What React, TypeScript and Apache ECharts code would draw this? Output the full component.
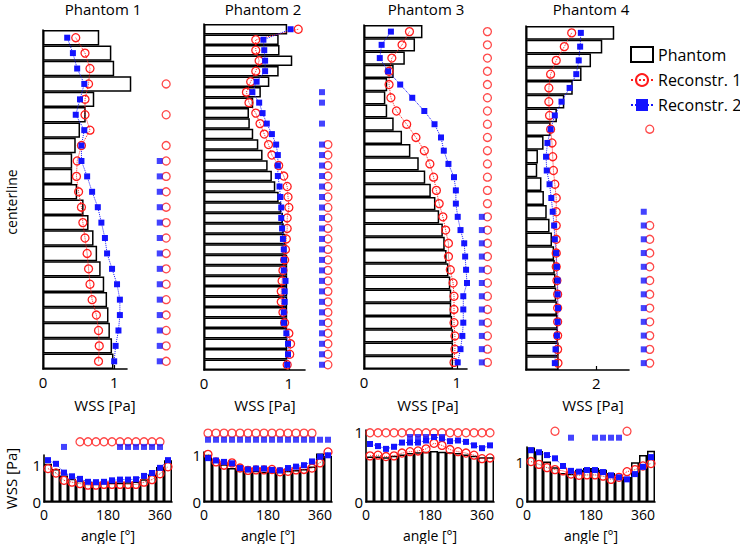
import React, { useEffect, useRef } from "react";
import * as echarts from "echarts";

// ---------- Top panels: WSS along centerline (row 0 = top) ----------
const p1Phantom = [0.79, 0.96, 1.0, 1.24, 0.72, 0.6, 0.52, 0.46, 0.41, 0.41, 0.48, 0.57, 0.64, 0.71, 0.76, 0.81, 0.86, 0.9, 0.92, 0.94, 0.97, 0.99];
const p1R1 = [0.46, 0.59, 0.66, 0.64, 0.59, 0.59, 0.66, 0.54, 0.48, 0.47, 0.5, 0.54, 0.56, 0.59, 0.62, 0.64, 0.66, 0.69, 0.75, 0.78, 0.79, 0.78];
const p1R2 = [0.34, 0.42, 0.48, 0.58, 0.52, 0.46, 0.58, 0.54, 0.54, 0.62, 0.69, 0.77, 0.82, 0.87, 0.9, 0.97, 1.04, 1.08, 1.08, 1.06, 1.02, 1.0];
const p1SigR1 = [3, 5, 7, 8, 9, 10, 11, 12, 13, 14, 15, 16, 17, 18, 19, 20, 21];
const p1SigR2 = [8, 9, 10, 11, 12, 13, 14, 15, 16, 17, 18, 19, 20, 21];

const p2Phantom = [0.98, 0.88, 0.89, 1.04, 0.88, 0.77, 0.67, 0.58, 0.53, 0.54, 0.58, 0.64, 0.69, 0.75, 0.8, 0.84, 0.88, 0.91, 0.93, 0.94, 0.96, 0.97, 0.98, 0.98, 0.98, 0.98, 0.98, 0.98, 0.98, 0.98, 0.98, 0.98, 0.98];
const p2R1 = [1.11, 0.61, 0.61, 0.65, 0.61, 0.55, 0.5, 0.53, 0.61, 0.66, 0.71, 0.76, 0.8, 0.88, 0.94, 0.98, 0.99, 1.0, 0.98, 0.98, 0.97, 0.96, 0.95, 0.93, 0.92, 0.91, 0.91, 0.93, 0.95, 1.0, 1.02, 1.01, 0.98];
const p2R2 = [1.02, 0.7, 0.71, 0.72, 0.72, 0.62, 0.57, 0.65, 0.69, 0.74, 0.8, 0.85, 0.87, 0.87, 0.87, 0.89, 0.9, 0.91, 0.91, 0.92, 0.93, 0.94, 0.94, 0.94, 0.96, 0.95, 0.95, 0.94, 0.94, 0.97, 0.99, 0.99, 0.98];
const p2SigR1 = [11, 12, 13, 14, 15, 16, 17, 18, 19, 20, 21, 22, 23, 24, 25, 26, 27, 28, 29, 30, 31, 32];
const p2SigR2 = [6, 7, 9, 11, 12, 13, 14, 15, 16, 17, 18, 19, 20, 21, 22, 23, 24, 25, 26, 27, 28, 29, 30, 31, 32];

const p3Phantom = [0.63, 0.55, 0.44, 0.32, 0.25, 0.23, 0.25, 0.32, 0.41, 0.5, 0.59, 0.66, 0.72, 0.77, 0.81, 0.85, 0.87, 0.89, 0.91, 0.93, 0.94, 0.94, 0.95, 0.96, 0.96, 0.96];
const p3R1 = [0.49, 0.41, 0.3, 0.27, 0.27, 0.29, 0.35, 0.46, 0.56, 0.65, 0.71, 0.75, 0.78, 0.81, 0.85, 0.88, 0.91, 0.91, 0.93, 0.96, 0.97, 0.97, 0.97, 0.98, 0.98, 0.97];
const p3R2 = [0.29, 0.19, 0.17, 0.26, 0.39, 0.52, 0.65, 0.76, 0.83, 0.86, 0.91, 0.97, 0.99, 0.99, 1.01, 1.04, 1.08, 1.09, 1.1, 1.11, 1.07, 1.07, 1.07, 1.06, 1.04, 1.01];
const p3SigR1 = [0, 1, 2, 3, 4, 5, 6, 7, 8, 9, 10, 11, 12, 13, 14, 15, 16, 17, 18, 19, 20, 21, 22, 23, 24, 25];
const p3SigR2 = [14, 15, 16, 17, 18, 19, 20, 21, 22, 23, 24, 25];

const p4Phantom = [2.51, 2.17, 1.85, 1.58, 1.33, 1.09, 0.88, 0.7, 0.5, 0.34, 0.32, 0.44, 0.51, 0.59, 0.67, 0.74, 0.8, 0.82, 0.84, 0.86, 0.88, 0.9, 0.91, 0.93, 0.93];
const p4R1 = [1.3, 1.09, 0.86, 0.7, 0.65, 0.65, 0.67, 0.7, 0.74, 0.76, 0.78, 0.82, 0.86, 0.86, 0.86, 0.86, 0.86, 0.86, 0.88, 0.9, 0.9, 0.9, 0.9, 0.9, 0.91];
const p4R2 = [1.56, 1.54, 1.5, 1.43, 1.24, 1.01, 0.82, 0.7, 0.61, 0.57, 0.59, 0.67, 0.72, 0.76, 0.8, 0.82, 0.86, 0.88, 0.9, 0.9, 0.91, 0.9, 0.88, 0.84, 0.82];
const p4SigR1 = [7, 14, 15, 16, 17, 18, 19, 20, 21, 22, 23, 24];
const p4SigR2 = [13, 14, 15, 16, 17, 18, 19, 20, 21, 22, 23, 24];

// ---------- Bottom panels: WSS over angle ----------
const angles = [11.25, 33.75, 56.25, 78.75, 101.25, 123.75, 146.25, 168.75, 191.25, 213.75, 236.25, 258.75, 281.25, 303.75, 326.25, 348.75];

const b1Phantom = [1.04, 0.9, 0.72, 0.63, 0.58, 0.55, 0.53, 0.53, 0.53, 0.53, 0.54, 0.56, 0.62, 0.75, 0.95, 1.14];
const b1R1 = [0.91, 0.79, 0.59, 0.54, 0.5, 0.46, 0.46, 0.48, 0.48, 0.48, 0.48, 0.48, 0.54, 0.61, 0.77, 0.96];
const b1R2 = [1.14, 1.04, 0.8, 0.7, 0.63, 0.55, 0.54, 0.55, 0.59, 0.61, 0.61, 0.62, 0.71, 0.79, 0.93, 1.14];
const b1SigR1 = [4, 5, 6, 7, 8, 9, 10, 11, 12, 13, 14];
const b1SigR2 = [2, 9, 10, 11, 12, 13, 14];

const b2Phantom = [1.0, 0.86, 0.8, 0.72, 0.68, 0.66, 0.66, 0.64, 0.64, 0.64, 0.66, 0.68, 0.7, 0.75, 1.03, 0.98];
const b2R1 = [1.01, 0.85, 0.78, 0.83, 0.72, 0.67, 0.68, 0.68, 0.69, 0.64, 0.65, 0.68, 0.69, 0.72, 0.83, 1.06];
const b2R2 = [0.93, 0.88, 0.85, 0.82, 0.72, 0.69, 0.71, 0.71, 0.68, 0.67, 0.72, 0.75, 0.78, 0.86, 0.96, 0.99];
const b2SigR1 = [0, 1, 2, 3, 4, 5, 6, 7, 8, 9, 10, 11, 12, 13];
const b2SigR2 = [0, 1, 2, 3, 4, 5, 6, 7, 8, 9, 10, 11, 12, 13, 14, 15];

const b3Phantom = [0.65, 0.65, 0.64, 0.66, 0.68, 0.7, 0.71, 0.72, 0.73, 0.72, 0.71, 0.7, 0.68, 0.66, 0.64, 0.64];
const b3R1 = [0.66, 0.67, 0.65, 0.66, 0.7, 0.72, 0.73, 0.76, 0.84, 0.81, 0.75, 0.72, 0.7, 0.67, 0.62, 0.63];
const b3R2 = [0.83, 0.8, 0.76, 0.79, 0.85, 0.85, 0.85, 0.88, 0.93, 0.91, 0.87, 0.88, 0.86, 0.81, 0.77, 0.81];
const b3SigR1 = [0, 1, 2, 3, 4, 5, 6, 7, 8, 9, 10, 11, 12, 13, 14, 15];
const b3SigR2 = [5, 6, 7, 8, 9];

const b4Phantom = [1.35, 1.26, 1.0, 0.86, 0.72, 0.7, 0.8, 0.84, 0.84, 0.8, 0.72, 0.62, 0.62, 0.98, 1.16, 1.27];
const b4R1 = [1.0, 0.93, 0.85, 0.8, 0.77, 0.69, 0.66, 0.67, 0.67, 0.64, 0.56, 0.61, 0.75, 0.8, 0.89, 0.95];
const b4R2 = [1.28, 1.23, 1.16, 1.08, 0.89, 0.77, 0.75, 0.79, 0.79, 0.74, 0.66, 0.61, 0.56, 0.69, 0.87, 1.11];
const b4SigR1 = [3, 12];
const b4SigR2 = [5, 8, 9, 10, 11];

const panelTitles = ["Phantom 1", "Phantom 2", "Phantom 3", "Phantom 4"];
const xTicksTop = [1, 1, 1, 2];
const xTicksBottom = 180;

const FONT = "'Open Sans', 'Noto Sans', sans-serif";
const RED = "#ff1c1c";
const BLUE = "#1414ff";

export default function App() {
  const ref = useRef<HTMLDivElement>(null);
  useEffect(() => {
    document.body.style.margin = "0";
    const chart = echarts.init(ref.current!, undefined, { renderer: "svg" });

    const topCfg = [
      { ph: p1Phantom, r1: p1R1, r2: p1R2, s1: p1SigR1, s2: p1SigR2, grid: { left: 43, top: 30, width: 84, height: 339 }, max: 1.18, sx1: 1.73, sx2: 1.64, cx: 103 },
      { ph: p2Phantom, r1: p2R1, r2: p2R2, s1: p2SigR1, s2: p2SigR2, grid: { left: 204, top: 24, width: 101, height: 346 }, max: 1.19, sx1: 1.46, sx2: 1.39, cx: 263 },
      { ph: p3Phantom, r1: p3R1, r2: p3R2, s1: p3SigR1, s2: p3SigR2, grid: { left: 364, top: 25, width: 103, height: 344 }, max: 1.11, sx1: 1.33, sx2: 1.27, cx: 426 },
      { ph: p4Phantom, r1: p4R1, r2: p4R2, s1: p4SigR1, s2: p4SigR2, grid: { left: 526, top: 26, width: 103, height: 344 }, max: 2.93, sx1: 3.52, sx2: 3.35, cx: 591 },
    ];
    const botCfg = [
      { ph: b1Phantom, r1: b1R1, r2: b1R2, s1: b1SigR1, s2: b1SigR2, grid: { left: 44, top: 455, width: 128, height: 48 }, max: 1.28, sy1: 1.64, sy2: 1.5 },
      { ph: b2Phantom, r1: b2R1, r2: b2R2, s1: b2SigR1, s2: b2SigR2, grid: { left: 204, top: 452, width: 128, height: 51 }, max: 1.06, sy1: 1.46, sy2: 1.32 },
      { ph: b3Phantom, r1: b3R1, r2: b3R2, s1: b3SigR1, s2: b3SigR2, grid: { left: 366, top: 430, width: 128, height: 73 }, max: 1.03, sy1: 0.99, sy2: 0.93 },
      { ph: b4Phantom, r1: b4R1, r2: b4R2, s1: b4SigR1, s2: b4SigR2, grid: { left: 527, top: 447, width: 128, height: 55 }, max: 1.36, sy1: 1.75, sy2: 1.59 },
    ];

    const axisLine = { show: true, lineStyle: { color: "#000", width: 1.6 } };
    const labelStyle = { color: "#000", fontSize: 15, fontFamily: FONT };

    const grids: any[] = [];
    const xAxes: any[] = [];
    const yAxes: any[] = [];
    const series: any[] = [];

    const circleStyle = { color: "rgba(255,255,255,0)", borderColor: RED, borderWidth: 1.3 };
    const squareStyle = { color: BLUE };

    topCfg.forEach((c, i) => {
      grids.push({ ...c.grid, containLabel: false });
      xAxes.push({
        type: "value", gridIndex: i, min: 0, max: c.max, interval: xTicksTop[i],
        axisLine, splitLine: { show: false },
        axisTick: { show: true, inside: true, length: 4, lineStyle: { color: "#000", width: 1.2 } },
        axisLabel: { ...labelStyle, margin: 5, showMaxLabel: false, formatter: (v: number) => (i === 3 && v === 0 ? "" : String(v)) },
      });
      yAxes.push({
        type: "category", gridIndex: i, inverse: true, data: c.ph.map((_, k) => String(k)),
        axisLine, axisTick: { show: false }, axisLabel: { show: false }, splitLine: { show: false },
      });
      series.push({
        type: "bar", name: "Phantom", xAxisIndex: i, yAxisIndex: i, data: c.ph, barCategoryGap: "0%", clip: false, z: 1,
        itemStyle: { color: "#fff", borderColor: "#000", borderWidth: 1.5 },
      });
      series.push({
        type: "line", name: "Reconstr. 1", xAxisIndex: i, yAxisIndex: i, clip: false, z: 3, showAllSymbol: true,
        data: c.r1.map((v, k) => [v, k]), symbol: "circle", symbolSize: 8,
        itemStyle: circleStyle, lineStyle: { color: RED, width: 1, type: "dotted" },
      });
      series.push({
        type: "line", name: "Reconstr. 2", xAxisIndex: i, yAxisIndex: i, clip: false, z: 3, showAllSymbol: true,
        data: c.r2.map((v, k) => [v, k]), symbol: "rect", symbolSize: 6,
        itemStyle: squareStyle, lineStyle: { color: BLUE, width: 1, type: "dotted" },
      });
      series.push({
        type: "scatter", name: "sig1", xAxisIndex: i, yAxisIndex: i, clip: false, z: 3,
        data: c.s1.map((r) => [c.sx1, r]), symbol: "circle", symbolSize: 8, itemStyle: circleStyle,
      });
      series.push({
        type: "scatter", name: "sig2", xAxisIndex: i, yAxisIndex: i, clip: false, z: 3,
        data: c.s2.map((r) => [c.sx2, r]), symbol: "rect", symbolSize: 6, itemStyle: squareStyle,
      });
    });

    botCfg.forEach((c, j) => {
      const i = j + 4;
      grids.push({ ...c.grid, containLabel: false });
      xAxes.push({
        type: "value", gridIndex: i, min: 0, max: 360, interval: xTicksBottom,
        axisLine, splitLine: { show: false },
        axisTick: { show: false },
        axisLabel: { ...labelStyle, fontSize: 14, lineHeight: 16, margin: 4, alignMaxLabel: "right" },
        name: "angle [°]", nameLocation: "middle", nameGap: 25,
        nameTextStyle: { color: "#000", fontSize: 14, lineHeight: 16, fontFamily: FONT },
      });
      yAxes.push({
        type: "value", gridIndex: i, min: 0, max: c.max, interval: 1,
        axisLine, splitLine: { show: false }, axisTick: { show: false },
        axisLabel: { ...labelStyle, margin: 3, showMaxLabel: false },
        ...(j === 0
          ? { name: "WSS [Pa]", nameLocation: "middle", nameRotate: 90, nameGap: 26, nameTextStyle: { color: "#000", fontSize: 15, fontFamily: FONT } }
          : {}),
      });
      series.push({
        type: "bar", name: "Phantom", xAxisIndex: i, yAxisIndex: i, barWidth: 8, clip: false, z: 1,
        data: angles.map((a, k) => [a, c.ph[k]]),
        itemStyle: { color: "#fff", borderColor: "#000", borderWidth: 1.5 },
      });
      series.push({
        type: "line", name: "Reconstr. 1", xAxisIndex: i, yAxisIndex: i, clip: false, z: 3, showAllSymbol: true,
        data: angles.map((a, k) => [a, c.r1[k]]), symbol: "circle", symbolSize: 8,
        itemStyle: circleStyle, lineStyle: { color: RED, width: 1, type: "dotted" },
      });
      series.push({
        type: "line", name: "Reconstr. 2", xAxisIndex: i, yAxisIndex: i, clip: false, z: 3, showAllSymbol: true,
        data: angles.map((a, k) => [a, c.r2[k]]), symbol: "rect", symbolSize: 6,
        itemStyle: squareStyle, lineStyle: { color: BLUE, width: 1, type: "dotted" },
      });
      series.push({
        type: "scatter", name: "sig1", xAxisIndex: i, yAxisIndex: i, clip: false, z: 3,
        data: c.s1.map((k) => [angles[k], c.sy1]), symbol: "circle", symbolSize: 8, itemStyle: circleStyle,
      });
      series.push({
        type: "scatter", name: "sig2", xAxisIndex: i, yAxisIndex: i, clip: false, z: 3,
        data: c.s2.map((k) => [angles[k], c.sy2]), symbol: "rect", symbolSize: 6, itemStyle: squareStyle,
      });
    });

    const textEl = (text: string, x: number, y: number, size: number, rotation = 0) => ({
      type: "text", x, y, rotation, silent: true,
      style: {
        text, fill: "#000", font: `${size}px ${FONT}`,
        align: "center", verticalAlign: "middle", textAlign: "center", textVerticalAlign: "middle",
      },
    });

    const graphics: any[] = [];
    topCfg.forEach((c, i) => {
      graphics.push(textEl(panelTitles[i], c.cx, 9, 15));
      graphics.push(textEl("WSS [Pa]", c.cx + 2, 405, 15));
    });
    graphics.push(textEl("centerline", 11, 202, 14, Math.PI / 2));

    const option: any = {
      animation: false,
      backgroundColor: "#fff",
      grid: grids,
      xAxis: xAxes,
      yAxis: yAxes,
      series,
      legend: {
        data: [{ name: "Phantom", icon: "rect" }, { name: "Reconstr. 1" }, { name: "Reconstr. 2" }],
        orient: "vertical", left: 625, top: 41, itemWidth: 22, itemHeight: 15, itemGap: 9,
        textStyle: { color: "#000", fontSize: 16, fontFamily: FONT },
        selectedMode: false,
      },
      graphic: graphics,
    };
    chart.setOption(option);
    return () => chart.dispose();
  }, []);
  return <div ref={ref} style={{ width: 740, height: 544 }} />;
}
